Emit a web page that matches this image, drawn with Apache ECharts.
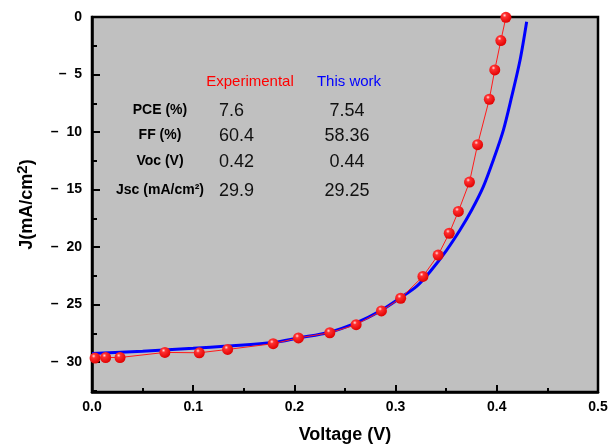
<!DOCTYPE html>
<html><head><meta charset="utf-8">
<script src="https://cdn.jsdelivr.net/npm/echarts@6/dist/echarts.min.js"></script>
<style>html,body{margin:0;padding:0;background:#fff}#c{width:612px;height:446px}</style>
</head><body><div id="c"></div>
<script>
// Experimental J-V data (V, J in mA/cm2 shown as positive, axis inverted)
const expV = [0.003,0.0135,0.0277,0.072,0.106,0.134,0.179,0.204,0.235,0.261,0.286,0.305,0.327,0.342,0.353,0.362,0.373,0.381,0.3926,0.398,0.404,0.409];
const expJ = [29.65,29.6,29.6,29.16,29.19,28.9,28.4,27.9,27.45,26.75,25.55,24.45,22.55,20.7,18.8,16.9,14.35,11.1,7.15,4.6,2.05,0.03];
// Model ("This work") curve
const modV = [0,0.05,0.1,0.134,0.179,0.204,0.235,0.261,0.285,0.305,0.321,0.334,0.3505,0.3636,0.3752,0.3867,0.3966,0.4065,0.4147,0.423,0.4295];
const modJ = [29.25,29.05,28.8,28.6,28.3,27.9,27.4,26.6,25.55,24.4,23.4,22.15,20.26,18.52,16.78,14.75,12.43,9.83,6.93,3.74,0.41];
// Table text
const colHeads = ["Experimental","This work"];
const rowLabels = ["PCE (%)","FF (%)","Voc (V)","Jsc (mA/cm²)"];
const expVals = ["7.6","60.4","0.42","29.9"];
const modVals = ["7.54","58.36","0.44","29.25"];
const xTicks = [0,0.1,0.2,0.3,0.4,0.5];
const yTicks = [0,5,10,15,20,25,30];

const chart = echarts.init(document.getElementById('c'));
const F = 'Arial, "Liberation Sans", sans-serif';
const rowY = [110,135,161,190];
const graphics = [
  {type:'text', style:{text:colHeads[0], x:250, y:82, fill:'#ff0000', font:'15px '+F, textAlign:'center', textVerticalAlign:'middle'}},
  {type:'text', style:{text:colHeads[1], x:349, y:82, fill:'#0000ff', font:'15px '+F, textAlign:'center', textVerticalAlign:'middle'}}
];
rowLabels.forEach((t,i)=>{
  graphics.push({type:'text', style:{text:t, x:160, y:rowY[i], fill:'#000', font:'bold 14px '+F, textAlign:'center', textVerticalAlign:'middle'}});
  graphics.push({type:'text', style:{text:expVals[i], x:219, y:rowY[i]+1, fill:'#111', font:'18px '+F, textAlign:'left', textVerticalAlign:'middle'}});
  graphics.push({type:'text', style:{text:modVals[i], x:347, y:rowY[i]+1, fill:'#111', font:'18px '+F, textAlign:'center', textVerticalAlign:'middle'}});
});

chart.setOption({
  animation:false,
  backgroundColor:'#ffffff',
  grid:{left:92, right:14, top:17, bottom:54, outerBoundsMode:'none', containLabel:false,
    show:true, backgroundColor:'#c0c0c0', borderColor:'#000', borderWidth:2.5},
  xAxis:{type:'value', min:0, max:0.5, interval:0.1,
    axisLine:{show:true, onZero:false, lineStyle:{color:'#000', width:2.5}},
    axisTick:{inside:true, length:7, lineStyle:{color:'#000', width:2}},
    minorTick:{show:true, splitNumber:2, length:4, lineStyle:{color:'#000', width:2}},
    splitLine:{show:false},
    axisLabel:{color:'#000', fontWeight:'bold', fontSize:14, fontFamily:F, margin:8,
      formatter:v=> xTicks.some(t=>Math.abs(t-v)<1e-9) ? v.toFixed(1) : ''},
    name:'Voltage (V)', nameLocation:'middle', nameGap:34,
    nameTextStyle:{color:'#000', fontWeight:'bold', fontSize:18, fontFamily:F}
  },
  yAxis:{type:'value', min:0, max:32.6, interval:5, inverse:true,
    axisLine:{show:true, onZero:false, lineStyle:{color:'#000', width:2.5}},
    axisTick:{inside:true, length:8, lineStyle:{color:'#000', width:2}},
    minorTick:{show:true, splitNumber:2, length:5, lineStyle:{color:'#000', width:2}},
    splitLine:{show:false},
    axisLabel:{color:'#000', fontWeight:'bold', fontSize:14, fontFamily:F, margin:10,
      formatter:v=> yTicks.indexOf(v)<0 ? '' : (v===0 ? '0' : '–  '+v)},
    name:'J(mA/cm{s|2})', nameLocation:'middle', nameGap:52, nameRotate:90,
    nameTextStyle:{color:'#000', fontWeight:'bold', fontSize:18, fontFamily:F,
      rich:{s:{fontSize:15, fontWeight:'bold', fontFamily:F, verticalAlign:'top', padding:[0,0,10,0]}}}
  },
  series:[
    {type:'line', name:'This work', data:modV.map((v,i)=>[v,modJ[i]]), smooth:0.3, symbol:'none',
      lineStyle:{color:'#0000ff', width:3}, z:2},
    {type:'line', name:'Experimental', data:expV.map((v,i)=>[v,expJ[i]]), symbol:'circle', symbolSize:11,
      lineStyle:{color:'#ff1a1a', width:1}, z:3,
      itemStyle:{color:{type:'radial', x:0.38, y:0.32, r:0.7, colorStops:[{offset:0,color:'#ffe0e0'},{offset:0.25,color:'#ff3030'},{offset:1,color:'#e00000'}]}, borderWidth:0}}
  ],
  graphic:graphics
});
</script></body></html>
